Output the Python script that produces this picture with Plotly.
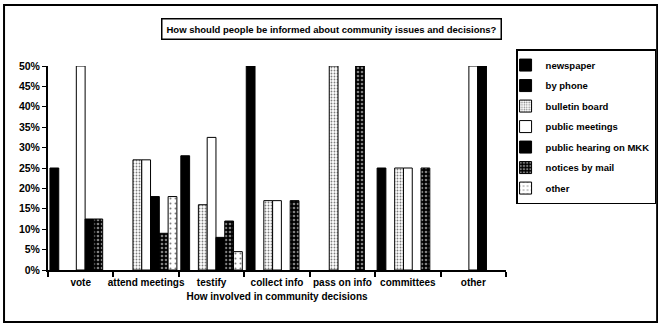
import plotly.graph_objects as go

categories = ["vote", "attend meetings", "testify", "collect info",
              "pass on info", "committees", "other"]
newspaper = [25, None, 28, 50, None, 25, None]
by_phone = [None, None, None, None, None, None, None]
bulletin_board = [None, 27, 16, 17, 50, 25, None]
public_meetings = [50, 27, 32.5, 17, None, 25, 50]
public_hearing = [12.5, 18, 8, None, None, None, 50]
notices_by_mail = [12.5, 9, 12, 17, 50, 25, None]
other = [None, 18, 4.5, None, None, None, None]
y_ticks = [0, 5, 10, 15, 20, 25, 30, 35, 40, 45, 50]
y_tick_labels = [f"{v}%" for v in y_ticks]

FONT = "Liberation Sans, Arial, sans-serif"

series = [
    ("newspaper", newspaper, dict(color="black")),
    ("by phone", by_phone, dict(color="black")),
    ("bulletin board", bulletin_board,
     dict(color="white", pattern=dict(shape=".", fgcolor="black", size=3, solidity=0.3, fillmode="overlay"))),
    ("public meetings", public_meetings, dict(color="white")),
    ("public hearing on MKK", public_hearing, dict(color="black")),
    ("notices by mail", notices_by_mail,
     dict(color="black", pattern=dict(shape=".", fgcolor="white", size=4, solidity=0.35, fillmode="overlay"))),
    ("other", other,
     dict(color="white", pattern=dict(shape=".", fgcolor="black", size=5, solidity=0.12, fillmode="overlay"))),
]

fig = go.Figure()
for i, (name, vals, marker) in enumerate(series):
    m = dict(marker)
    m["line"] = dict(color="black", width=1)
    fig.add_trace(go.Bar(x=categories, y=vals, name=name, marker=m,
                         legendgroup=f"g{i}"))

fig.update_layout(
    width=658, height=323,
    margin=dict(l=48, r=152, t=66, b=53, autoexpand=False),
    paper_bgcolor="white", plot_bgcolor="white",
    barmode="group", bargap=0.06, bargroupgap=0,
    font=dict(family=FONT, size=10, color="black", weight="bold"),
    showlegend=True,
    legend=dict(
        x=1.022, xanchor="left", y=1.083, yanchor="top",
        bordercolor="black", borderwidth=1.5, bgcolor="white",
        font=dict(family=FONT, size=9.5, color="black", weight="bold"),
        tracegroupgap=1.5, itemwidth=30, indentation=-12,
    ),
    xaxis=dict(
        showline=True, linecolor="black", linewidth=2, automargin=False,
        ticks="outside", tickson="boundaries", ticklen=5, tickcolor="black", tickwidth=2,
        showgrid=False, tickfont=dict(size=10), tickangle=0, ticklabelstandoff=2,
        title=dict(text="How involved in community decisions", font=dict(size=10), standoff=6),
    ),
    yaxis=dict(
        range=[0, 50], tickvals=y_ticks, ticktext=y_tick_labels, automargin=False,
        showline=True, linecolor="black", linewidth=2,
        ticks="outside", ticklen=4, tickcolor="black", tickwidth=1,
        showgrid=False, zeroline=False, tickfont=dict(size=10.5),
    ),
    shapes=[
        dict(type="rect", xref="paper", yref="paper",
             x0=-0.096, x1=1.33, y0=-0.255, y1=1.299,
             line=dict(color="black", width=2)),
    ],
    annotations=[
        dict(text="How should people be informed about community issues and decisions?",
             xref="paper", yref="paper", x=0.62, y=1.181, xanchor="center", yanchor="middle",
             showarrow=False, bordercolor="black", borderwidth=1.5, borderpad=4,
             bgcolor="white", font=dict(size=9.5, family=FONT, weight="bold")),
    ],
)

fig.write_html("out.html", config={"displayModeBar": False},
               post_script="document.body.style.margin='0px';")
